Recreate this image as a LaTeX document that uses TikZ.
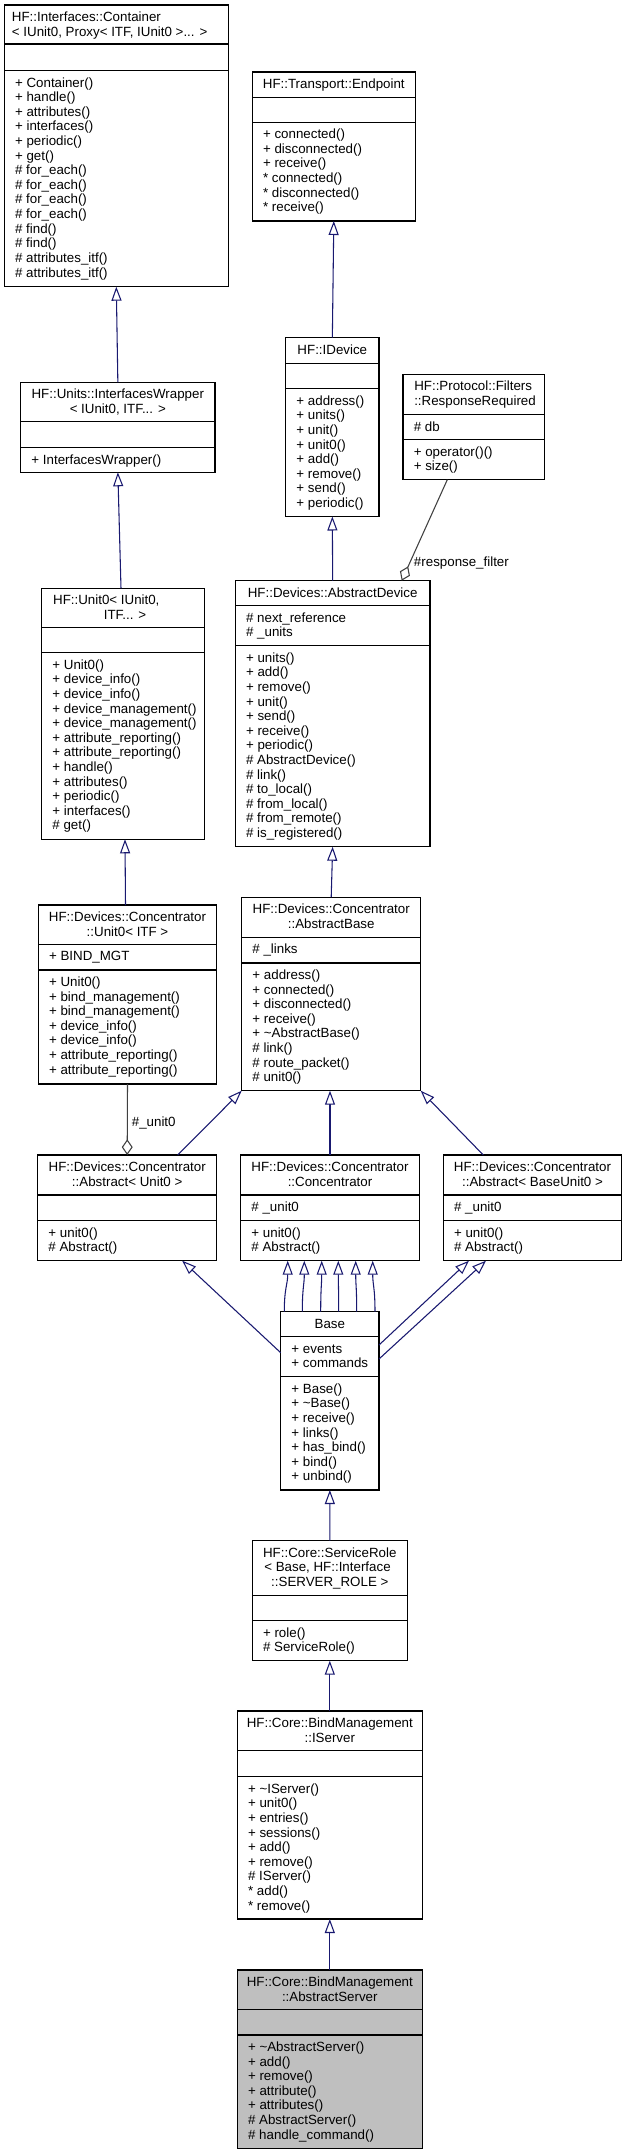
\documentclass[tikz,border=0pt]{standalone}
\usepackage{fontspec}
\setmainfont{Liberation Sans}
\usetikzlibrary{arrows.meta,calc,fit}
\definecolor{edgeblue}{HTML}{191970}
\definecolor{agggray}{HTML}{404040}
\definecolor{selgray}{HTML}{BFBFBF}
\newcommand\memlist[4]{\foreach \mtext [count=\i from 0] in {#4} {\node[mem] (#1\i) at ({#2},{#3+14.6*\i}) {\mtext};}}
\newcommand\cbox[8][]{%
  \node[cls,#1,fit={(#3,#5) (#4,#8)}] (#2) {};
  \draw[sepl] ($(#2.north west)+(0,#6-#5)$) -- ($(#2.north east)+(0,#6-#5)$);
  \draw[sepl] ($(#2.north west)+(0,#7-#5)$) -- ($(#2.north east)+(0,#7-#5)$);}
\begin{document}
\begin{tikzpicture}[x=0.75pt,y=-0.75pt,
  cls/.style={draw=black,line width=0.9pt,inner sep=0pt,outer sep=0pt,fill=white},
  sepl/.style={draw=black,line width=0.9pt},
  mem/.style={anchor=base west,inner sep=0pt,font=\fontsize{10}{12}\selectfont},
  ttl/.style={anchor=base,inner sep=0pt,font=\fontsize{10}{12}\selectfont},
  ttll/.style={anchor=base west,inner sep=0pt,font=\fontsize{10}{12}\selectfont},
  lbl/.style={inner sep=0pt,font=\fontsize{10}{12}\selectfont},
  inh/.style={draw=edgeblue,line width=0.8pt,-{Triangle[fill=white,length=10.5pt,width=7.5pt]}},
  agg/.style={draw=agggray,line width=0.8pt,-{Diamond[fill=white,length=11.8pt,width=8.2pt]}}]
\fill[white] (0,0) rectangle (627,2155);
\useasboundingbox (0,0) rectangle (627,2155);

% ---- Container
\cbox{cont}{4.3}{228.3}{5}{44}{70.7}{286.7}
\node[ttll] (cont-t1) at (11.7,21.5) {HF::Interfaces::Container};
\node[ttll] (cont-t2) at (11.7,36.1) {< IUnit0, Proxy< ITF, IUnit0 >... >};
\memlist{cont-m}{14.8}{87.2}{+ Container(),+ handle(),+ attributes(),+ interfaces(),+ periodic(),+ get(),\# for\_each(),\# for\_each(),\# for\_each(),\# for\_each(),\# find(),\# find(),\# attributes\_itf(),\# attributes\_itf()}

% ---- Endpoint
\cbox{endp}{252.3}{415.3}{72}{97.3}{122.3}{221}
\node[ttl] (endp-t1) at (333.8,88.5) {HF::Transport::Endpoint};
\memlist{endp-m}{262.8}{138.8}{+ connected(),+ disconnected(),+ receive(),* connected(),* disconnected(),* receive()}

% ---- IDevice
\cbox{idev}{285.7}{379}{337.7}{363.3}{388.7}{516.5}
\node[ttl] (idev-t1) at (332.3,354.2) {HF::IDevice};
\memlist{idev-m}{296.2}{405.2}{+ address(),+ units(),+ unit(),+ unit0(),+ add(),+ remove(),+ send(),+ periodic()}

% ---- ResponseRequired
\cbox{resp}{403}{544.7}{374.3}{414.7}{439.7}{479.7}
\node[ttll] (resp-t1) at (414,390.8) {HF::Protocol::Filters};
\node[ttll] (resp-t2) at (414,405.4) {::ResponseRequired};
\memlist{resp-a}{413.5}{431.2}{\# db}
\memlist{resp-m}{413.5}{456.2}{+ operator()(),+ size()}

% ---- InterfacesWrapper
\cbox{iw}{20.7}{215}{382.3}{421.7}{447.7}{472.3}
\node[ttl] (iw-t1) at (117.8,398.8) {HF::Units::InterfacesWrapper};
\node[ttl] (iw-t2) at (117.8,413.4) {< IUnit0, ITF... >};
\memlist{iw-m}{31.2}{464.2}{+ InterfacesWrapper()}

% ---- Unit0<IUnit0,ITF...>
\cbox{u0}{41.7}{204.3}{588.3}{627.3}{652.7}{839.3}
\node[ttl] (u0-t1) at (106.3,604.8) {HF::Unit0< IUnit0,};
\node[ttl] (u0-t2) at (125,619.4) {ITF... >};
\memlist{u0-m}{52.2}{669.2}{+ Unit0(),+ device\_info(),+ device\_info(),+ device\_management(),+ device\_management(),+ attribute\_reporting(),+ attribute\_reporting(),+ handle(),+ attributes(),+ periodic(),+ interfaces(),\# get()}

% ---- AbstractDevice
\cbox{adev}{235.3}{430}{580.7}{605.7}{645.7}{846.7}
\node[ttl] (adev-t1) at (332.7,597.2) {HF::Devices::AbstractDevice};
\memlist{adev-a}{245.8}{622.2}{\# next\_reference,\# \_units}
\memlist{adev-m}{245.8}{662.2}{+ units(),+ add(),+ remove(),+ unit(),+ send(),+ receive(),+ periodic(),\# AbstractDevice(),\# link(),\# to\_local(),\# from\_local(),\# from\_remote(),\# is\_registered()}

% ---- Concentrator::Unit0<ITF>
\cbox{cu0}{38.3}{216.7}{905}{944.3}{970}{1084}
\node[ttl] (cu0-t1) at (127.5,921.5) {HF::Devices::Concentrator};
\node[ttl] (cu0-t2) at (127.5,936.1) {::Unit0< ITF >};
\memlist{cu0-a}{48.8}{960.8}{+ BIND\_MGT}
\memlist{cu0-m}{48.8}{986.5}{+ Unit0(),+ bind\_management(),+ bind\_management(),+ device\_info(),+ device\_info(),+ attribute\_reporting(),+ attribute\_reporting()}

% ---- AbstractBase
\cbox{abase}{241.7}{420.7}{897.3}{937.3}{963}{1090.7}
\node[ttl] (abase-t1) at (331.2,913.8) {HF::Devices::Concentrator};
\node[ttl] (abase-t2) at (331.2,928.4) {::AbstractBase};
\memlist{abase-a}{252.2}{953.8}{\# \_links}
\memlist{abase-m}{252.2}{979.5}{+ address(),+ connected(),+ disconnected(),+ receive(),+ \textasciitilde AbstractBase(),\# link(),\# route\_packet(),\# unit0()}

% ---- Abstract<Unit0>
\cbox{au0}{37.7}{216.7}{1155}{1195}{1220.7}{1260.7}
\node[ttl] (au0-t1) at (127.2,1171.5) {HF::Devices::Concentrator};
\node[ttl] (au0-t2) at (127.2,1186.1) {::Abstract< Unit0 >};
\memlist{au0-m}{48.2}{1237.2}{+ unit0(),\# Abstract()}

% ---- Concentrator
\cbox{conc}{240.7}{419.3}{1155}{1195}{1220.7}{1260.7}
\node[ttl] (conc-t1) at (330,1171.5) {HF::Devices::Concentrator};
\node[ttl] (conc-t2) at (330,1186.1) {::Concentrator};
\memlist{conc-a}{251.2}{1211.5}{\# \_unit0}
\memlist{conc-m}{251.2}{1237.2}{+ unit0(),\# Abstract()}

% ---- Abstract<BaseUnit0>
\cbox{abu0}{443.3}{621.7}{1155}{1195}{1220.7}{1260.7}
\node[ttl] (abu0-t1) at (532.5,1171.5) {HF::Devices::Concentrator};
\node[ttl] (abu0-t2) at (532.5,1186.1) {::Abstract< BaseUnit0 >};
\memlist{abu0-a}{453.8}{1211.5}{\# \_unit0}
\memlist{abu0-m}{453.8}{1237.2}{+ unit0(),\# Abstract()}

% ---- Base
\cbox{base}{280.7}{379}{1311.7}{1336.7}{1376.7}{1490}
\node[ttl] (base-t1) at (329.85,1328.2) {Base};
\memlist{base-a}{291.2}{1353.2}{+ events,+ commands}
\memlist{base-m}{291.2}{1393.2}{+ Base(),+ \textasciitilde Base(),+ receive(),+ links(),+ has\_bind(),+ bind(),+ unbind()}

% ---- ServiceRole
\cbox{srole}{252.3}{407.3}{1540.7}{1595.3}{1620.7}{1660.7}
\node[ttl] (srole-t1) at (329.8,1557.2) {HF::Core::ServiceRole};
\node[ttl] (srole-t2) at (327.5,1571.8) {< Base, HF::Interface};
\node[ttl] (srole-t3) at (329.8,1586.4) {::SERVER\_ROLE >};
\memlist{srole-m}{262.8}{1637.2}{+ role(),\# ServiceRole()}

% ---- IServer
\cbox{iserv}{237.3}{422.3}{1711}{1750.7}{1776.7}{1919}
\node[ttl] (iserv-t1) at (329.8,1727.5) {HF::Core::BindManagement};
\node[ttl] (iserv-t2) at (329.8,1742.1) {::IServer};
\memlist{iserv-m}{247.8}{1793.2}{+ \textasciitilde IServer(),+ unit0(),+ entries(),+ sessions(),+ add(),+ remove(),\# IServer(),* add(),* remove()}

% ---- AbstractServer
\cbox[fill=selgray]{aserv}{237.3}{422.3}{1970}{2009.3}{2035}{2148.3}
\node[ttl] (aserv-t1) at (329.8,1986.5) {HF::Core::BindManagement};
\node[ttl] (aserv-t2) at (329.8,2001.1) {::AbstractServer};
\memlist{aserv-m}{247.8}{2051.5}{+ \textasciitilde AbstractServer(),+ add(),+ remove(),+ attribute(),+ attributes(),\# AbstractServer(),\# handle\_command()}

% ---- connectors
\draw[inh] (iw.north) -- (cont.south);
\draw[inh] ($(u0.north)+(-2,0)$) -- (iw.south);
\draw[inh] ($(cu0.north)+(-2,0)$) -- ($(u0.south)+(2,0)$);
\draw[inh] (idev.north) -- (endp.south);
\draw[inh] (adev.north) -- (idev.south);
\draw[inh] (abase.north) -- (adev.south);
\draw[agg] ($(resp.south west)+(44.3,0)$) -- node[lbl,pos=0.83,anchor=west,xshift=3pt] (lbl-rf) {\#response\_filter} ($(adev.north west)+(166.4,0)$);
\draw[agg] (cu0.south) -- node[lbl,pos=0.55,anchor=west,xshift=3pt] (lbl-u0) {\#\_unit0} (au0.north);
\draw[inh] ($(au0.north west)+(140,0)$) -- (abase.south west);
\draw[inh] (conc.north) -- (conc.north |- abase.south);
\draw[inh] ($(abu0.north west)+(40,0)$) -- (abase.south east);
\foreach \a/\b in {3.6/47, 21.6/63.6, 40/81, 58/97.6, 76/115, 94.3/132}
  \draw[inh] ($(base.north west)+(\a,0)$) .. controls +(0,-24) and +(0,24) .. ($(conc.south west)+(\b,0)$);
\draw[inh] ($(base.north west)+(0,41)$) -- ($(au0.south west)+(144.5,0)$);
\draw[inh] ($(base.north east)+(0,33.3)$) -- ($(abu0.south west)+(25.7,0)$);
\draw[inh] ($(base.north east)+(0,47.3)$) -- ($(abu0.south west)+(42.7,0)$);
\draw[inh] (srole.north) -- (base.south);
\draw[inh] (iserv.north) -- (srole.south);
\draw[inh] (aserv.north) -- (iserv.south);
\end{tikzpicture}
\end{document}
